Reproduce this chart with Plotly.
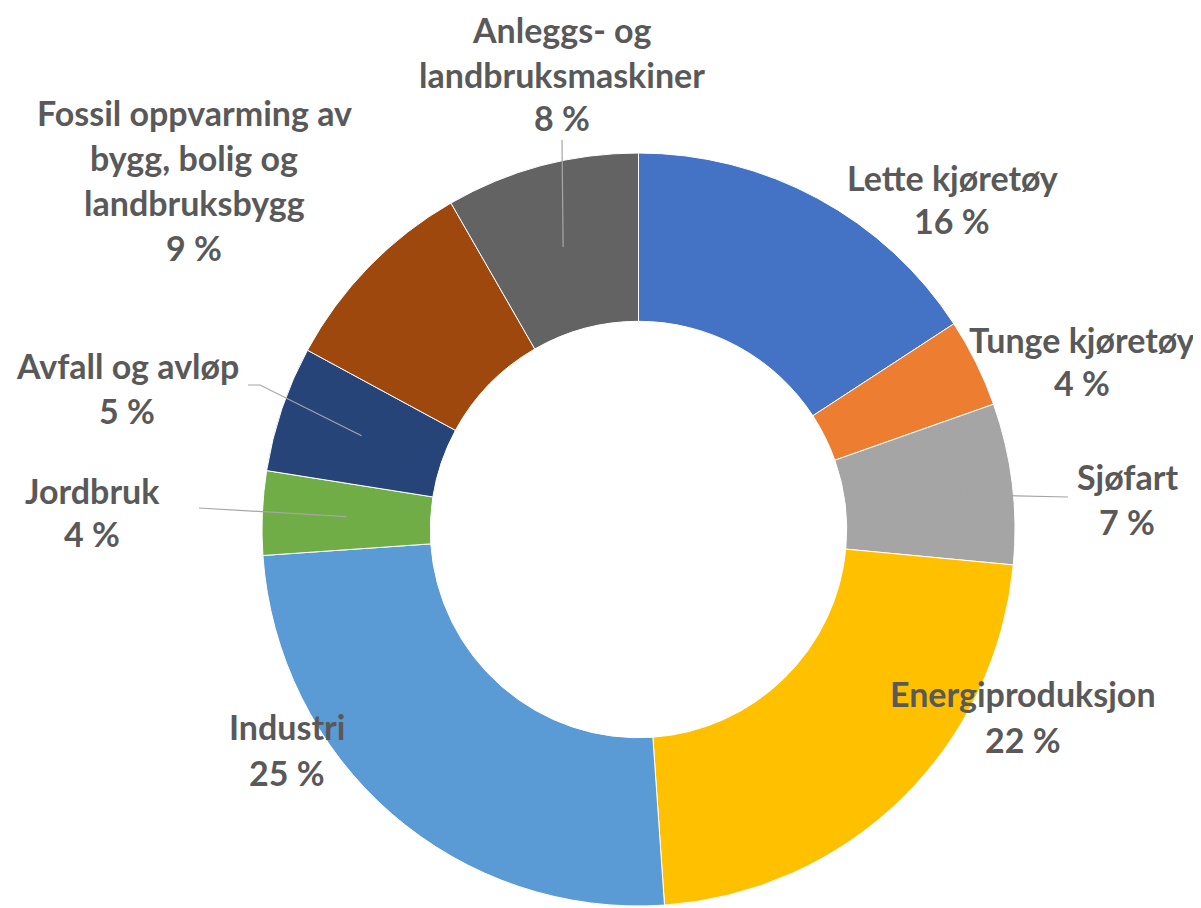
import math
import plotly.graph_objects as go

# ---------------- data ----------------
categories = ["Lette kjøretøy", "Tunge kjøretøy", "Sjøfart", "Energiproduksjon",
              "Industri", "Jordbruk", "Avfall og avløp",
              "Fossil oppvarming av bygg, bolig og landbruksbygg",
              "Anleggs- og landbruksmaskiner"]
values = [15.8, 3.8, 6.9, 22.4, 25.0, 3.6, 5.4, 8.8, 8.3]
pct_labels = ["16 %", "4 %", "7 %", "22 %", "25 %", "4 %", "5 %", "9 %", "8 %"]
label_lines = [
    ["Lette kjøretøy"],
    ["Tunge kjøretøy"],
    ["Sjøfart"],
    ["Energiproduksjon"],
    ["Industri"],
    ["Jordbruk"],
    ["Avfall og avløp"],
    ["Fossil oppvarming av", "bygg, bolig og", "landbruksbygg"],
    ["Anleggs- og", "landbruksmaskiner"],
]
colors = ["#4472C4", "#ED7D31", "#A5A5A5", "#FFC000", "#5B9BD5",
          "#70AD47", "#264478", "#9E480E", "#636363"]

# ---------------- layout constants ----------------
W, H = 1201, 908
OFF = 8  # page body margin offset of the figure in the browser window
CX, CY, R = 638.5 - OFF, 529.5 - OFF, 376.5
HOLE = 0.553
TEXT_COLOR = "#595959"
FONT = "Lato"
FSIZE = 34
LINE_GAP = 45

# label positions (center x, first line y, line gap) in window pixels
label_pos = [(952, 177, 43), (1082, 340, 42), (1127, 476, 45), (1023, 693, 46),
             (287, 726, 46), (92, 490, 43), (127, 365, 45), (194, 112, 45.3),
             (562, 30, 44)]
# leader line start points (text side), optional elbow, in window pixels
leader_start = {2: [(1068, 497)], 5: [(199, 508)], 6: [(248, 385), (260, 385)], 8: [(562, 140)]}


def px(x, y):
    # figure-pixel -> paper
    return x / W, 1 - y / H


fig = go.Figure(go.Pie(
    labels=categories, values=values, sort=False, direction="clockwise",
    rotation=0, hole=HOLE, textinfo="none", hoverinfo="label+percent",
    marker=dict(colors=colors, line=dict(color="white", width=1)),
    domain=dict(x=[(CX - R) / W, (CX + R) / W], y=[1 - (CY + R) / H, 1 - (CY - R) / H]),
    showlegend=False,
))

annotations = []
for i, lines in enumerate(label_lines):
    x0, y0, gap = label_pos[i]
    for j, t in enumerate(lines + [pct_labels[i]]):
        xp, yp = px(x0 - OFF, y0 + j * gap - OFF)
        annotations.append(dict(
            x=xp, y=yp, xref="paper", yref="paper", text=t, showarrow=False,
            xanchor="center", yanchor="middle", borderpad=0,
            font=dict(family=FONT, size=FSIZE, color=TEXT_COLOR, weight=700)))

shapes = []
total = sum(values)
cum = 0.0
mids = []
for v in values:
    mids.append((cum + v / 2) / total * 2 * math.pi)
    cum += v
rmid = R * (1 + HOLE) / 2
for i, pts in leader_start.items():
    a = mids[i]
    ex, ey = CX + rmid * math.sin(a), CY - rmid * math.cos(a)
    allpts = [(x - OFF, y - OFF) for x, y in pts] + [(ex, ey)]
    path = "M " + " L ".join(f"{px(x, y)[0]:.5f},{px(x, y)[1]:.5f}" for x, y in allpts)
    shapes.append(dict(type="path", path=path, xref="paper", yref="paper",
                       line=dict(color="#A6A6A6", width=1.2)))

fig.update_layout(
    width=W, height=H, margin=dict(l=0, r=0, t=0, b=0),
    paper_bgcolor="white", plot_bgcolor="white",
    annotations=annotations, shapes=shapes,
)

fig.write_html("out.html")
